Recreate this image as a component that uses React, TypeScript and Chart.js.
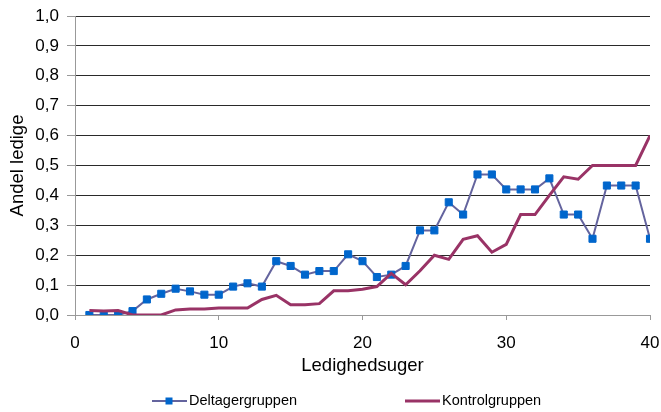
import React, { useEffect, useRef } from "react";
import { Chart, registerables } from "chart.js";

Chart.register(...registerables);

const weeks = [1, 2, 3, 4, 5, 6, 7, 8, 9, 10, 11, 12, 13, 14, 15, 16, 17, 18, 19, 20, 21, 22, 23, 24, 25, 26, 27, 28, 29, 30, 31, 32, 33, 34, 35, 36, 37, 38, 39, 40];

const deltager = [0.0, 0.0, 0.0, 0.013, 0.052, 0.071, 0.088, 0.079, 0.068, 0.068, 0.095, 0.106, 0.095, 0.18, 0.164, 0.135, 0.147, 0.147, 0.203, 0.18, 0.127, 0.135, 0.164, 0.283, 0.283, 0.377, 0.336, 0.47, 0.47, 0.42, 0.42, 0.42, 0.457, 0.336, 0.336, 0.255, 0.433, 0.433, 0.433, 0.255];

const kontrol = [0.015, 0.013, 0.015, 0.0, 0.0, 0.0, 0.017, 0.02, 0.02, 0.023, 0.023, 0.023, 0.052, 0.066, 0.034, 0.034, 0.038, 0.081, 0.081, 0.086, 0.095, 0.139, 0.101, 0.148, 0.2, 0.186, 0.253, 0.265, 0.21, 0.236, 0.336, 0.336, 0.4, 0.462, 0.454, 0.5, 0.5, 0.5, 0.5, 0.6];

const seriesNames = ["Deltagergruppen", "Kontrolgruppen"];
const xTicks = [0, 10, 20, 30, 40];
const yTicks = [0, 0.1, 0.2, 0.3, 0.4, 0.5, 0.6, 0.7, 0.8, 0.9, 1.0];

const FONT = "'Liberation Sans', Arial, sans-serif";
const DELT_LINE = "#64649E";
const DELT_MARK = "#0066CC";
const KONT_LINE = "#993366";

const legendPlugin = {
  id: "customLegend",
  afterDraw(chart: any) {
    const ctx = chart.ctx;
    ctx.save();
    const y = 401;
    ctx.strokeStyle = DELT_LINE;
    ctx.lineWidth = 2;
    ctx.beginPath();
    ctx.moveTo(152, y);
    ctx.lineTo(187, y);
    ctx.stroke();
    ctx.fillStyle = DELT_MARK;
    ctx.fillRect(169 - 3.5, y - 3.5, 7, 7);
    ctx.fillStyle = "#000";
    ctx.font = `14.5px ${FONT}`;
    ctx.textAlign = "left";
    ctx.textBaseline = "middle";
    ctx.fillText(seriesNames[0], 189, y);
    ctx.strokeStyle = KONT_LINE;
    ctx.lineWidth = 3;
    ctx.beginPath();
    ctx.moveTo(405, y);
    ctx.lineTo(440, y);
    ctx.stroke();
    ctx.fillStyle = "#000";
    ctx.fillText(seriesNames[1], 442, y);
    ctx.restore();
  },
};

export default function App() {
  const ref = useRef<HTMLCanvasElement | null>(null);

  useEffect(() => {
    if (!ref.current) return;
    const chart = new Chart(ref.current, {
      type: "line",
      data: {
        datasets: [
          {
            label: seriesNames[0],
            data: weeks.map((w, i) => ({ x: w, y: deltager[i] })),
            borderColor: DELT_LINE,
            borderWidth: 2,
            pointStyle: "rect",
            pointRadius: 5,
            pointBorderWidth: 1,
            pointBackgroundColor: DELT_MARK,
            pointBorderColor: DELT_MARK,
            tension: 0,
            order: 2,
          },
          {
            label: seriesNames[1],
            data: weeks.map((w, i) => ({ x: w, y: kontrol[i] })),
            borderColor: KONT_LINE,
            borderWidth: 3,
            pointRadius: 0,
            tension: 0,
            order: 1,
          },
        ],
      },
      options: {
        animation: false,
        responsive: false,
        maintainAspectRatio: false,
        layout: { padding: { left: 0, right: 11, top: 16, bottom: 31 } },
        plugins: {
          legend: { display: false },
          tooltip: { enabled: false },
        },
        scales: {
          x: {
            type: "linear",
            min: 0,
            max: 40,
            afterBuildTicks: (scale: any) => {
              scale.ticks = xTicks.map((v) => ({ value: v }));
            },
            afterFit: (scale: any) => {
              scale.height = 66;
              scale.paddingLeft = 0;
              scale.paddingRight = 0;
            },
            ticks: {
              font: { family: FONT, size: 17 },
              color: "#000",
              padding: 13,
              maxRotation: 0,
            },
            grid: {
              drawOnChartArea: false,
              drawTicks: true,
              tickLength: 5,
              tickColor: "#999",
            },
            border: { color: "#999", width: 1 },
            title: {
              display: true,
              text: "Ledighedsuger",
              font: { family: FONT, size: 18.5 },
              color: "#000",
              padding: { top: 4, bottom: 4 },
            },
          },
          y: {
            min: 0,
            max: 1,
            afterBuildTicks: (scale: any) => {
              scale.ticks = yTicks.map((v) => ({ value: v }));
            },
            afterFit: (scale: any) => {
              scale.width = 75;
              scale.paddingTop = 0;
              scale.paddingBottom = 0;
            },
            ticks: {
              font: { family: FONT, size: 17 },
              color: "#000",
              padding: 8,
              callback: (v: any) => Number(v).toFixed(1).replace(".", ","),
            },
            grid: {
              color: (c: any) => (c.tick && c.tick.value === 0 ? "rgba(0,0,0,0)" : "#2a2a2a"),
              tickColor: "#999",
              tickLength: 8,
              lineWidth: 1,
            },
            border: { color: "#999", width: 1 },
            title: {
              display: true,
              text: "Andel ledige",
              font: { family: FONT, size: 18.5 },
              color: "#000",
              padding: { top: 7, bottom: 4 },
            },
          },
        },
      },
      plugins: [legendPlugin],
    });
    return () => chart.destroy();
  }, []);

  return (
    <div style={{ position: "absolute", left: 0, top: 0, width: 661, height: 412, background: "#fff" }}>
      <canvas ref={ref} width={661} height={412} style={{ display: "block", width: 661, height: 412 }} />
    </div>
  );
}
